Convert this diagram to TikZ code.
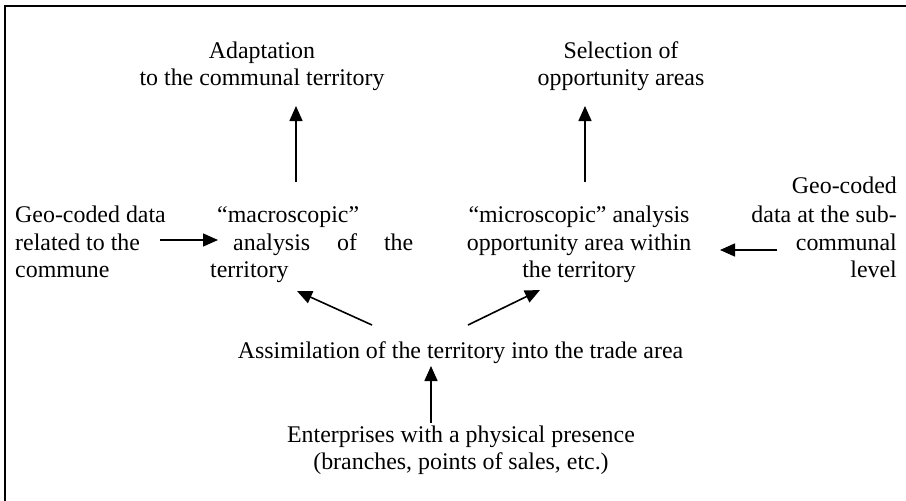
\documentclass[tikz,border=0pt]{standalone}
\usepackage{fontspec}
\setmainfont{Liberation Serif}
\usetikzlibrary{arrows.meta}
\begin{document}
\begin{tikzpicture}[x=1pt,y=-1pt,
  txt/.style={inner sep=0pt, font=\fontsize{23.9}{27}\selectfont},
  arr/.style={line width=1.6pt, -{Triangle[length=15pt,width=13pt]}},
  frame/.style={line width=2.2pt}]
\useasboundingbox (0,0) rectangle (906,501);
\fill[white] (0,0) rectangle (906,501);
\coordinate (fbl) at (4.7,501);
\coordinate (ftl) at (4.7,5.7);
\coordinate (ftr) at (906,5.7);
\draw[frame] (fbl) -- (ftl) -- (ftr);
% top texts
\node[txt, anchor=base] (adapt1) at (262,58) {Adaptation};
\node[txt, anchor=base] (adapt2) at (262,85) {to the communal territory};
\node[txt, anchor=base] (sel1) at (621,58) {Selection of};
\node[txt, anchor=base] (sel2) at (621,85) {opportunity areas};
% left text
\node[txt, anchor=base west] (geo1) at (15,222) {Geo-coded data};
\node[txt, anchor=base west] (geo2) at (15,250) {related to the};
\node[txt, anchor=base west] (geo3) at (15,277) {commune};
% macroscopic
\node[txt, anchor=base west] (mac1) at (217,222) {“macroscopic”};
\node[txt, anchor=base west] (mac2) at (210,250) {\makebox[203pt][s]{\hspace*{23pt}analysis of the}};
\node[txt, anchor=base west] (mac3) at (210,277) {territory};
% microscopic
\node[txt, anchor=base] (mic1) at (579,222) {“microscopic” analysis};
\node[txt, anchor=base] (mic2) at (579,250) {opportunity area within};
\node[txt, anchor=base] (mic3) at (579,277) {the territory};
% right text
\node[txt, anchor=base east] (rgt1) at (897,193) {Geo-coded};
\node[txt, anchor=base east] (rgt2) at (897,222) {data at the sub-};
\node[txt, anchor=base east] (rgt3) at (897,250) {communal};
\node[txt, anchor=base east] (rgt4) at (897,277) {level};
% bottom
\node[txt, anchor=base] (assim) at (460.5,358) {Assimilation of the territory into the trade area};
\node[txt, anchor=base] (ent1) at (461,442) {Enterprises with a physical presence};
\node[txt, anchor=base] (ent2) at (461,469) {(branches, points of sales, etc.)};
% arrow end points
\coordinate (a1s) at (296,182); \coordinate (a1e) at (296,106);
\coordinate (a2s) at (585,182); \coordinate (a2e) at (585,106);
\coordinate (a3s) at (160,240); \coordinate (a3e) at (218,240);
\coordinate (a4s) at (777,250); \coordinate (a4e) at (720,250);
\coordinate (a5s) at (372,325); \coordinate (a5e) at (297,291);
\coordinate (a6s) at (468,325); \coordinate (a6e) at (540,290);
\coordinate (a7s) at (431,423); \coordinate (a7e) at (431,366);
\draw[arr] (a1s) -- (a1e);
\draw[arr] (a2s) -- (a2e);
\draw[arr] (a3s) -- (a3e);
\draw[arr] (a4s) -- (a4e);
\draw[arr] (a5s) -- (a5e);
\draw[arr] (a6s) -- (a6e);
\draw[arr] (a7s) -- (a7e);
\end{tikzpicture}
\end{document}
